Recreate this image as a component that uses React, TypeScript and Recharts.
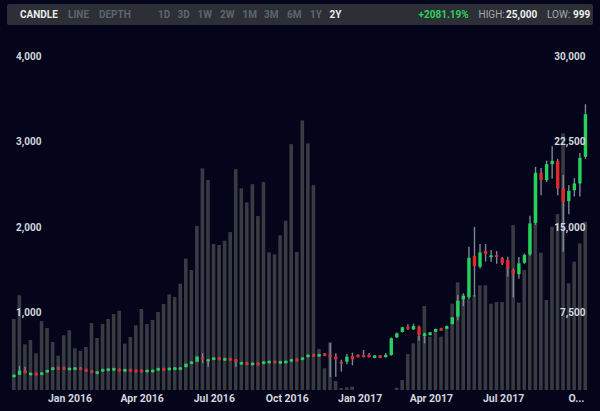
import React from 'react';
import { ComposedChart, Bar, XAxis, YAxis } from 'recharts';

const WEEK_START = Date.UTC(2015, 9, 22);
const WEEK_MS = 7 * 24 * 3600 * 1000;

const VOLUME = [
  929, 1206, 634, 684, 529, 906, 824, 661, 501, 739,
  797, 587, 559, 602, 882, 707, 871, 930, 987, 1026,
  641, 719, 855, 1046, 871, 918, 1011, 1104, 1217, 1186,
  1341, 1633, 1501, 2014, 2688, 2551, 1804, 1793, 1843, 1944,
  2679, 2454, 2291, 2504, 2131, 2528, 1707, 1684, 1906, 2076,
  2971, 1711, 3248, 2979, 2493, 579, 354, 657, 205, 124,
  132, 139, 0, 0, 0, 0, 0, 0, 0, 127,
  217, 520, 645, 730, 1081, 723, 777, 723, 832, 1108,
  1357, 1217, 1159, 1209, 1322, 1322, 1108, 1127, 1127, 1539,
  2026, 1120, 1500, 2000, 2600, 1703, 1151, 2006, 2154, 3096,
  1345, 1598, 1812, 2065,
];

const OPEN = [
  1880, 2090, 2450, 2050, 2250, 2080, 2290, 2520, 2750, 2750,
  2490, 2520, 2720, 2575, 2455, 2170, 2375, 2430, 2460, 2600,
  2375, 2575, 2515, 2515, 2315, 2315, 2460, 2660, 2490, 2520,
  2520, 2760, 3040, 3230, 3610, 3260, 3390, 3590, 3340, 3540,
  3420, 2990, 3160, 2930, 3130, 3040, 3100, 3300, 3070, 3100,
  3250, 3480, 3390, 3630, 3890, 3690, 3950, 3860, 3670, 3230,
  3230, 3730, 3830, 3830, 3830, 3570, 3770, 3630, 3815, 5360,
  5830, 6300, 6060, 6290, 5480, 5560, 5850, 6160, 6120, 6530,
  7170, 8690, 8860, 12500, 11540, 12940, 12420, 12560, 12300, 12130,
  11250, 10900, 11890, 12630, 15390, 19770, 19130, 20530, 20790, 18400,
  17290, 18250, 18840, 21170,
];

const CLOSE = [
  2080, 2440, 2250, 2250, 2050, 2280, 2490, 2720, 2550, 2550,
  2690, 2720, 2520, 2375, 2255, 2370, 2575, 2630, 2660, 2400,
  2575, 2375, 2315, 2315, 2515, 2515, 2660, 2460, 2690, 2720,
  2720, 3040, 3240, 3670, 3440, 3440, 3590, 3390, 3540, 3340,
  3220, 3190, 2960, 3130, 2930, 3240, 3300, 3100, 3270, 3300,
  3450, 3280, 3590, 3830, 3690, 3890, 3750, 3660, 3440, 3090,
  3670, 3440, 3630, 3630, 3630, 3770, 3570, 3830, 5275, 5710,
  6240, 6100, 6350, 5560, 5710, 5800, 6090, 5960, 6350, 7110,
  8570, 8980, 12330, 11600, 12800, 12650, 12540, 12420, 11840, 11400,
  10900, 11840, 12570, 15340, 19770, 19130, 20530, 20820, 18400, 17230,
  18190, 18840, 21080, 24900,
];

const HIGH = [
  2120, 2850, 2790, 2290, 2290, 2320, 2530, 2760, 2790, 2790,
  2730, 2760, 2760, 2615, 2495, 2410, 2615, 2670, 2700, 2640,
  2615, 2615, 2555, 2555, 2555, 2555, 2700, 2700, 2730, 2760,
  2760, 3080, 3280, 3710, 3960, 3480, 3630, 3630, 3580, 3580,
  3460, 3230, 3200, 3170, 3170, 3280, 3340, 3340, 3310, 3340,
  3490, 3520, 3630, 3870, 3930, 3930, 3990, 4860, 3960, 3400,
  3900, 4020, 3870, 4250, 4000, 3810, 3810, 4000, 5350, 5780,
  6300, 6500, 6560, 6400, 5780, 5840, 6130, 6200, 6390, 7150,
  9070, 9210, 13290, 15040, 13540, 13530, 13010, 12920, 12400, 12420,
  11400, 12400, 12710, 16000, 20290, 20200, 20840, 22100, 21000, 19570,
  18690, 19300, 21500, 25780,
];

const LOW = [
  1840, 2050, 2210, 2010, 2010, 2040, 2250, 2480, 2510, 2510,
  2450, 2480, 2480, 2335, 2215, 2130, 2335, 2390, 2420, 2360,
  2335, 2335, 2275, 2275, 2275, 2275, 2420, 2420, 2450, 2480,
  2480, 2720, 3000, 3190, 3090, 2790, 3350, 3350, 3300, 3300,
  2790, 2950, 2920, 2890, 2890, 3000, 3060, 3060, 3030, 3060,
  3210, 3240, 3350, 3590, 3650, 3650, 3710, 1890, 1920, 2355,
  3000, 2910, 3590, 3590, 3590, 3530, 3530, 3590, 3750, 5300,
  5780, 6000, 6020, 5070, 4840, 5520, 5810, 5920, 6080, 6490,
  6860, 8090, 8700, 8920, 11400, 12000, 11990, 11800, 11700, 10700,
  8860, 10500, 11800, 12500, 15200, 17810, 18960, 19280, 17800, 12850,
  16150, 17700, 17700, 21000,
];

const TICK_DATES = [
  Date.UTC(2016, 0, 1), Date.UTC(2016, 3, 1), Date.UTC(2016, 6, 1), Date.UTC(2016, 9, 1),
  Date.UTC(2017, 0, 1), Date.UTC(2017, 3, 1), Date.UTC(2017, 6, 1), Date.UTC(2017, 9, 1),
];
const TICK_LABELS = ['Jan 2016', 'Apr 2016', 'Jul 2016', 'Oct 2016', 'Jan 2017', 'Apr 2017', 'Jul 2017', 'O...'];
const VOL_TICKS = [1000, 2000, 3000, 4000];
const PRICE_TICKS = [7500, 15000, 22500, 30000];

const BG = '#04051a';
const BAR = '#383b41';
const WICK = '#7c8796';
const GREEN = '#22d35e';
const RED = '#e0282d';
const AXIS_TEXT = '#d3d7df';
const FONT = 'Roboto, "Liberation Sans", Arial, sans-serif';

const W = 600;
const H = 411;
const M = { top: 56, right: 12, left: 11, bottom: 0 };
const XAXIS_H = 21;
const PLOT_BOTTOM = H - XAXIS_H;

const data = VOLUME.map((v, i) => ({
  t: WEEK_START + i * WEEK_MS,
  vol: v,
  open: OPEN[i],
  close: CLOSE[i],
  high: HIGH[i],
  low: LOW[i],
  range: [LOW[i], HIGH[i]],
}));

const fmt = (n: number) => n.toLocaleString('en-US');

const VolumeShape = (props: any) => {
  const { x, y, width, height } = props;
  if (!(height > 0.2)) return null;
  return <rect x={x} y={y} width={width} height={height} fill={BAR} />;
};

const CandleShape = (props: any) => {
  const { x, y, width, height, payload } = props;
  if (!payload || height == null) return null;
  const { open, close, high, low } = payload;
  const k = high - low > 0 ? height / (high - low) : 0;
  const cx = x + width / 2;
  const top = y + (high - Math.max(open, close)) * k;
  const bot = y + (high - Math.min(open, close)) * k;
  const up = close >= open;
  return (
    <g>
      <line x1={cx} x2={cx} y1={y} y2={y + height} stroke={WICK} strokeWidth={1.4} />
      <rect x={cx - 1.7} y={top} width={3.4} height={Math.max(bot - top, 1.8)} fill={up ? GREEN : RED} />
    </g>
  );
};

const LeftTick = (props: any) => {
  const { y, payload } = props;
  return (
    <text x={M.left + 5} y={y} dy="0.35em" textAnchor="start" fill={AXIS_TEXT}
      fontFamily={FONT} fontSize={10} fontWeight={700}>{fmt(payload.value)}</text>
  );
};

const RightTick = (props: any) => {
  const { y, payload } = props;
  return (
    <text x={W - M.right - 2.5} y={y} dy="0.35em" textAnchor="end" fill={AXIS_TEXT}
      fontFamily={FONT} fontSize={10} fontWeight={700}>{fmt(payload.value)}</text>
  );
};

const BottomTick = (props: any) => {
  const { x, payload } = props;
  const idx = TICK_DATES.indexOf(payload.value);
  return (
    <text x={x} y={PLOT_BOTTOM + 8.5} dy="0.35em" textAnchor="middle" fill={AXIS_TEXT}
      fontFamily={FONT} fontSize={10.5} fontWeight={700}>{TICK_LABELS[idx]}</text>
  );
};

const toolbarItems = [
  { text: 'CANDLE', left: 20, color: '#e9ebee', weight: 700 },
  { text: 'LINE', left: 68, color: '#5d6670', weight: 700 },
  { text: 'DEPTH', left: 99, color: '#5d6670', weight: 700 },
  { text: '1D', left: 158, color: '#5d6670', weight: 700 },
  { text: '3D', left: 177.5, color: '#5d6670', weight: 700 },
  { text: '1W', left: 197.5, color: '#5d6670', weight: 700 },
  { text: '2W', left: 220, color: '#5d6670', weight: 700 },
  { text: '1M', left: 242.5, color: '#5d6670', weight: 700 },
  { text: '3M', left: 264, color: '#5d6670', weight: 700 },
  { text: '6M', left: 287, color: '#5d6670', weight: 700 },
  { text: '1Y', left: 310, color: '#5d6670', weight: 700 },
  { text: '2Y', left: 329.5, color: '#e9ebee', weight: 700 },
  { text: '+2081.19%', left: 418.5, color: '#2fcf5c', weight: 700 },
  { text: 'HIGH:', left: 478.5, color: '#a3a9b1', weight: 400 },
  { text: '25,000', left: 506, color: '#eef0f2', weight: 700 },
  { text: 'LOW:', left: 547, color: '#a3a9b1', weight: 400 },
  { text: '999', left: 573, color: '#eef0f2', weight: 700 },
];

export default function App() {
  return (
    <div style={{ position: 'absolute', left: 0, top: 0, width: W, height: H, background: BG, overflow: 'hidden', fontFamily: FONT }}>
      <div style={{ position: 'absolute', left: 7, top: 4, width: 586, height: 21, background: '#2c2f35', borderRadius: 2 }} />
      {toolbarItems.map((it) => (
        <span key={it.text} style={{ position: 'absolute', left: it.left, top: 4, height: 21, lineHeight: '21px', fontSize: 10, fontWeight: it.weight, color: it.color, whiteSpace: 'nowrap' }}>{it.text}</span>
      ))}
      <div style={{ position: 'absolute', left: 0, top: 0 }}>
        <ComposedChart width={W} height={H} data={data} margin={M}>
          <XAxis xAxisId="vol" dataKey="t" type="number" scale="linear"
            domain={[WEEK_START - WEEK_MS / 2, WEEK_START + (VOLUME.length - 0.5) * WEEK_MS]}
            ticks={TICK_DATES} interval={0} height={XAXIS_H} axisLine={false} tickLine={false} tick={<BottomTick />} allowDataOverflow />
          <XAxis xAxisId="px" dataKey="t" type="number" scale="linear" hide
            domain={[WEEK_START - WEEK_MS / 2, WEEK_START + (VOLUME.length - 0.5) * WEEK_MS]} allowDataOverflow />
          <YAxis yAxisId="vol" orientation="left" mirror domain={[100, 4000]} ticks={VOL_TICKS} interval={0}
            axisLine={false} tickLine={false} tick={<LeftTick />} allowDataOverflow />
          <YAxis yAxisId="px" orientation="right" mirror domain={[750, 30000]} ticks={PRICE_TICKS} interval={0}
            axisLine={false} tickLine={false} tick={<RightTick />} allowDataOverflow />
          <Bar xAxisId="vol" yAxisId="vol" dataKey="vol" barSize={3.6} fill={BAR} shape={<VolumeShape />} isAnimationActive={false} />
          <Bar xAxisId="px" yAxisId="px" dataKey="range" barSize={4} fill={GREEN} shape={<CandleShape />} isAnimationActive={false} />
        </ComposedChart>
      </div>
    </div>
  );
}
